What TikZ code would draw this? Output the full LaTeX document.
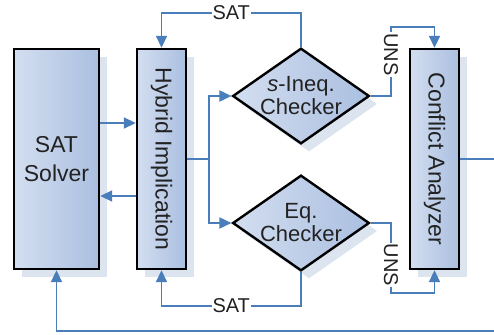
\documentclass[tikz,border=0pt]{standalone}
\usepackage{fontspec}
\setmainfont{Liberation Sans}
\usetikzlibrary{shapes.geometric,arrows.meta,shadows}
\definecolor{flowblue}{HTML}{4A7EBB}
\definecolor{boxlight}{HTML}{D3DEF0}
\definecolor{boxdark}{HTML}{AABFE0}
\definecolor{shadowblue}{HTML}{DCE4F0}
\definecolor{inkgray}{HTML}{222222}

\begin{document}
\begin{tikzpicture}[x=1pt,y=-1pt,
     block/.style={draw,line width=2.4pt,left color=boxlight,right color=boxdark,
        drop shadow={shadow xshift=8pt,shadow yshift=-8pt,fill=shadowblue,opacity=1},
        inner sep=0pt},
     check/.style={block,diamond,aspect=1.43,minimum width=134pt,minimum height=94pt,
        font=\fontsize{22}{23}\selectfont,text=inkgray,align=center},
     boxtext/.style={font=\fontsize{23}{29}\selectfont,text=inkgray,align=center},
     flow/.style={draw=flowblue,line width=1.8pt,-{Triangle[length=12pt,width=11pt]}},
     tag/.style={fill=white,inner sep=1pt,font=\fontsize{20}{22}\selectfont,text=inkgray}
     ]
%Page frame, the feedback loop runs off it
\useasboundingbox (0,0) rectangle (494,334);
\clip (0,0) rectangle (494,334);

%Top and bottom of the tall boxes
\def \ytop{49}
\def \ybot{269}
\pgfmathsetmacro{\ymid}{(\ytop+\ybot)/2}
\pgfmathsetmacro{\tall}{\ybot-\ytop}

%Tall boxes
\node[block,minimum width=85pt,minimum height=\tall pt] (solver) at (56.5,\ymid) {};
\node[boxtext] (solvertext) at (solver) {SAT\\Solver};
\node[block,minimum width=49pt,minimum height=\tall pt] (hybrid) at (161.5,\ymid) {};
\node[boxtext,rotate=-90] (hybridtext) at (hybrid) {Hybrid Implication};
\node[block,minimum width=49pt,minimum height=\tall pt] (conflict) at (434.5,\ymid) {};
\node[boxtext,rotate=-90] (conflicttext) at (conflict) {Conflict Analyzer};

%Checkers
\node[check] (ineq) at (301,96) {\textit{s}-Ineq.\\Checker};
\node[check] (eq) at (301,223) {Eq.\\Checker};

%Helper points for the connectors
\coordinate (split) at (209,\ymid);
\coordinate (topsat) at (0,13);
\coordinate (botsat) at (0,306);
\coordinate (topuns) at (0,27);
\coordinate (botuns) at (0,293);
\coordinate (unsx) at (391,0);
\coordinate (loop) at (500,331);

%Connectors
\draw[flow] ([yshift=36pt]solver.east) -- ([yshift=36pt]hybrid.west);
\draw[flow] ([yshift=-37pt]hybrid.west) -- ([yshift=-37pt]solver.east);
\draw[flow] (hybrid.east) -- (split) |- (ineq.west);
\draw[flow] (split) |- (eq.west);
\draw[flow] (ineq.north) -- (ineq.north |- topsat)
   -- node[tag] (sattop) {SAT} (hybrid.north |- topsat) -- (hybrid.north);
\draw[flow] (eq.south) -- (eq.south |- botsat)
   -- node[tag] (satbot) {SAT} (hybrid.south |- botsat) -- (hybrid.south);
\draw[flow] (ineq.east) -- (unsx |- ineq.east)
   -- node[tag,rotate=-90,pos=0.6] (unstop) {UNS} (unsx |- topuns)
   -- (conflict.north |- topuns) -- (conflict.north);
\draw[flow] (eq.east) -- (unsx |- eq.east)
   -- node[tag,rotate=-90,pos=0.6] (unsbot) {UNS} (unsx |- botuns)
   -- (conflict.south |- botuns) -- (conflict.south);
\draw[flow] (conflict.east) -- (loop |- conflict.east) -- (loop)
   -- (solver.south |- loop) -- (solver.south);
\end{tikzpicture}
\end{document}
